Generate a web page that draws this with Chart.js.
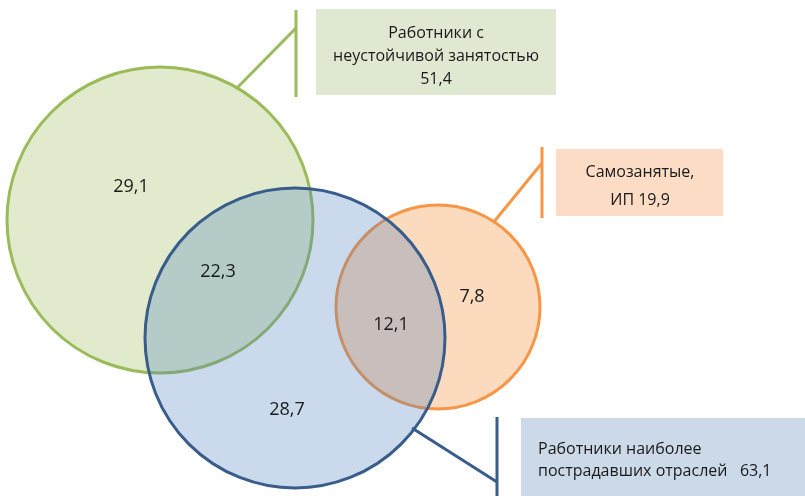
<!DOCTYPE html>
<html>
<head>
<meta charset="utf-8">
<script src="https://cdn.jsdelivr.net/npm/chart.js@4/dist/chart.umd.min.js"></script>
<style>
  html, body { margin: 0; padding: 0; background: #fff; }
  #wrap { width: 805px; height: 496px; position: relative; }
</style>
</head>
<body>
<div id="wrap"><canvas id="venn"></canvas></div>
<script>
// Data: groups and their totals, values of each region
const groupNames = ["Работники с неустойчивой занятостью", "Самозанятые, ИП", "Работники наиболее пострадавших отраслей"];
const groupTotals = [51.4, 19.9, 63.1];
const regionNames = ["только неустойчивая", "неустойчивая + отрасли", "только отрасли", "самозанятые + отрасли", "только самозанятые"];
const regionValues = [29.1, 22.3, 28.7, 12.1, 7.8];

// Layout (pixel-like units of the axes)
const circles = [
  { x: 160, y: 220, r: 153, stroke: "#9bbb59", fill: "rgba(155,187,89,0.3)" },
  { x: 438, y: 307, r: 102, stroke: "#f79646", fill: "rgba(247,150,70,0.35)" },
  { x: 295, y: 338, r: 150, stroke: "#385d8a", fill: "rgba(79,129,189,0.3)" }
];
const regionPos = [[131, 187], [218, 272], [287, 410], [391, 325], [472, 297]];

const fmt = v => v.toFixed(1).replace(".", ",");

// callouts: box, leader lines, text lines
const callouts = [
  {
    box: [316, 9, 556, 95], fill: "#dfe9d1", stroke: "#9bbb59",
    lines: [[296, 10, 296, 97], [296, 28, 237, 88]],
    align: "center", tx: 436, ty: [33, 56, 79],
    text: ["Работники с", "неустойчивой занятостью", fmt(groupTotals[0])]
  },
  {
    box: [556, 149, 723, 216], fill: "#fcdcc4", stroke: "#f79646",
    lines: [[542, 147, 542, 218], [542, 163, 493, 223]],
    align: "center", tx: 640, ty: [172, 200],
    text: ["Самозанятые,", "ИП " + fmt(groupTotals[1])]
  },
  {
    box: [521, 418, 805, 496], fill: "#ccd9e8", stroke: "#385d8a",
    lines: [[497, 417, 497, 496], [412, 428, 497, 482]],
    align: "left", tx: 538, ty: [449, 471],
    text: ["Работники наиболее", "пострадавших отраслей   " + fmt(groupTotals[2])]
  }
];

const FONT = "16px 'Open Sans'";
const NUM_FONT = "18px 'Open Sans'";

const labelsPlugin = {
  id: "vennLabels",
  beforeDatasetsDraw(chart) {
    const { ctx, scales: { x, y } } = chart;
    ctx.save();
    callouts.forEach(c => {
      const [x0, y0, x1, y1] = c.box;
      ctx.fillStyle = c.fill;
      ctx.fillRect(x.getPixelForValue(x0), y.getPixelForValue(y0),
        x.getPixelForValue(x1) - x.getPixelForValue(x0), y.getPixelForValue(y1) - y.getPixelForValue(y0));
      ctx.strokeStyle = c.stroke;
      ctx.lineWidth = 3;
      c.lines.forEach(l => {
        ctx.beginPath();
        ctx.moveTo(x.getPixelForValue(l[0]), y.getPixelForValue(l[1]));
        ctx.lineTo(x.getPixelForValue(l[2]), y.getPixelForValue(l[3]));
        ctx.stroke();
      });
    });
    ctx.restore();
  },
  afterDatasetsDraw(chart) {
    const { ctx, scales: { x, y } } = chart;
    ctx.save();
    ctx.font = NUM_FONT;
    ctx.fillStyle = "#1a1a1a";
    ctx.textBaseline = "middle";
    ctx.textAlign = "center";
    regionValues.forEach((v, i) => {
      ctx.fillText(fmt(v), x.getPixelForValue(regionPos[i][0]), y.getPixelForValue(regionPos[i][1]));
    });
    ctx.font = FONT;
    callouts.forEach(c => {
      ctx.textAlign = c.align;
      c.text.forEach((t, i) => ctx.fillText(t, x.getPixelForValue(c.tx), y.getPixelForValue(c.ty[i])));
    });
    ctx.restore();
  }
};

new Chart(document.getElementById("venn"), {
  type: "bubble",
  data: {
    datasets: circles.map((c, i) => ({
      label: groupNames[i],
      data: [{ x: c.x, y: c.y, r: c.r }],
      backgroundColor: c.fill,
      borderColor: c.stroke,
      borderWidth: 3,
      hoverRadius: 0,
      clip: false,
      order: [2, 1, 0][i]
    }))
  },
  options: {
    responsive: true,
    maintainAspectRatio: false,
    animation: false,
    layout: { padding: 0, autoPadding: false },
    plugins: { legend: { display: false }, tooltip: { enabled: false } },
    scales: {
      x: { type: "linear", min: 0, max: 805, display: false },
      y: { type: "linear", min: 0, max: 496, reverse: true, display: false }
    }
  },
  plugins: [labelsPlugin]
});
</script>
</body>
</html>
